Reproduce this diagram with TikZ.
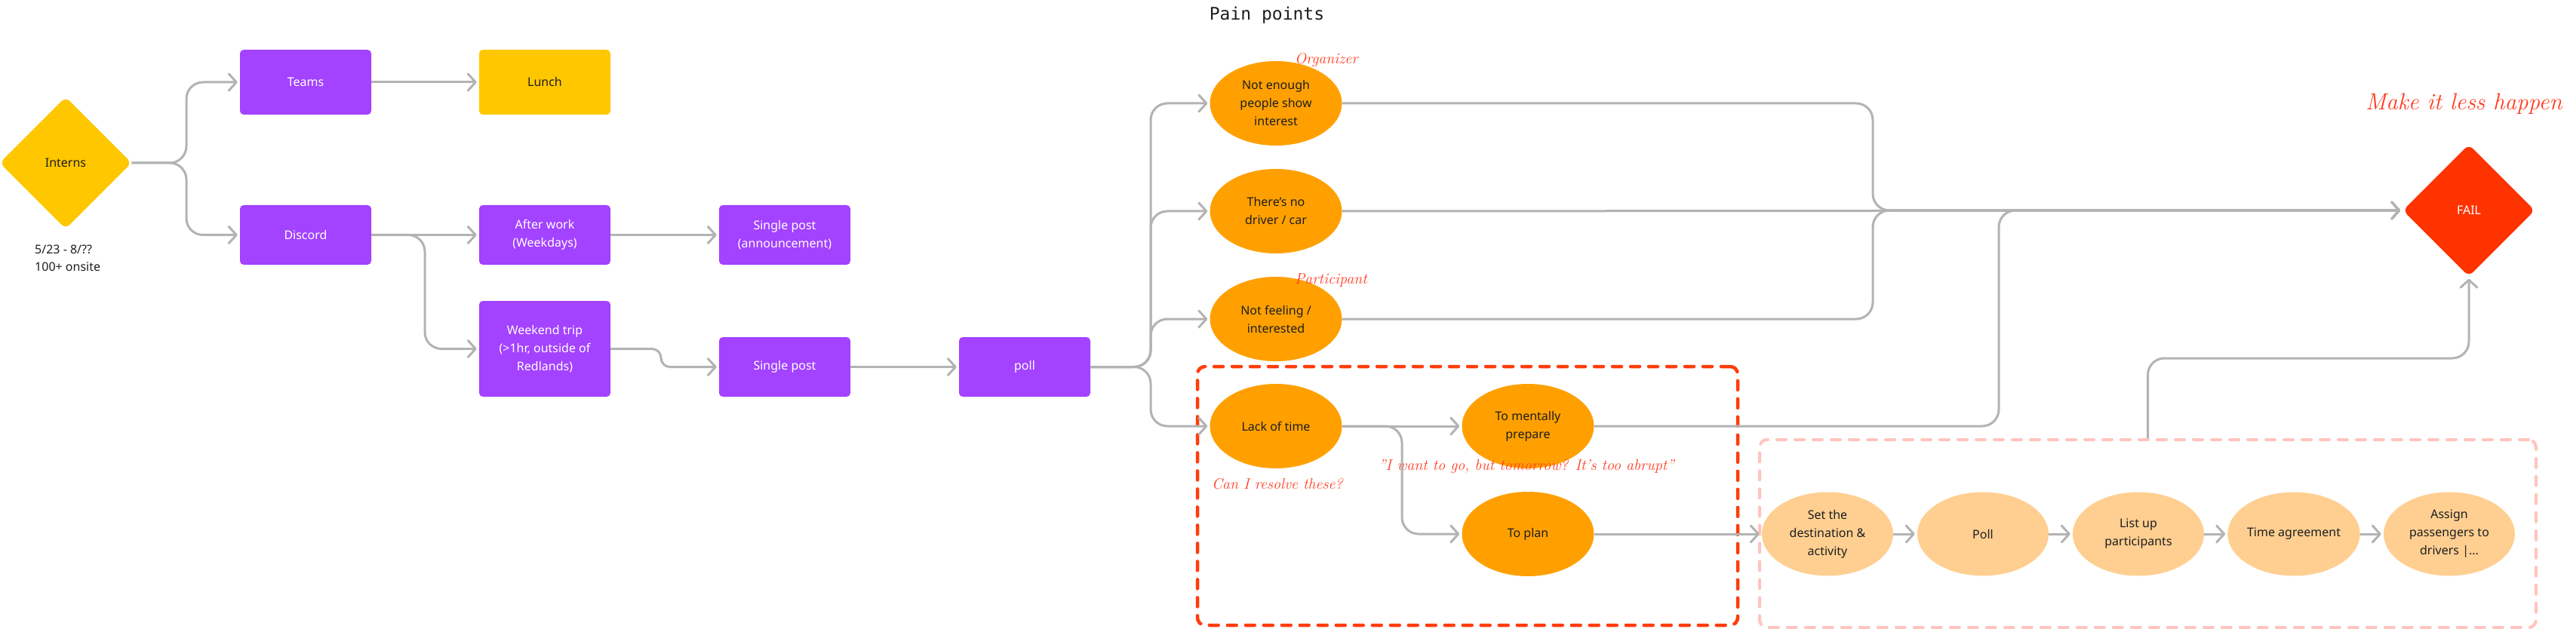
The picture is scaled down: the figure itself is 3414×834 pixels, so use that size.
\documentclass[tikz,border=0pt]{standalone}
\usepackage{fontspec}
\usetikzlibrary{shapes.geometric,arrows.meta}
\newfontfamily\uifont{Noto Sans}
\newfontfamily\titlefont{DejaVu Sans Mono}
\newcommand\handfont{\normalfont\itshape}
\definecolor{purp}{HTML}{A342FF}
\definecolor{yel}{HTML}{FFC700}
\definecolor{orng}{HTML}{FFA000}
\definecolor{lorng}{HTML}{FFCF91}
\definecolor{failred}{HTML}{FF3300}
\definecolor{redline}{HTML}{FF3D0A}
\definecolor{pinkline}{HTML}{FFC4BE}
\definecolor{lgray}{HTML}{B3B3B3}
\definecolor{dark}{HTML}{1E1E1E}
\definecolor{handred}{HTML}{FF3B1F}
\tikzset{
  conn/.style={draw=lgray, line width=3pt, rounded corners=22pt, line join=round,
    -{Straight Barb[length=10pt,width=22pt,round]}, shorten >=3pt},
  uitext/.style={font=\uifont\fontsize{16}{24}\selectfont, align=center},
  box/.style={uitext, rectangle, rounded corners=5pt, fill=purp, text=white,
    minimum width=174pt, inner sep=0pt},
  pain/.style={uitext, ellipse, fill=orng, text=dark, minimum width=175pt,
    minimum height=112pt, inner sep=0pt},
  stepnode/.style={uitext, ellipse, fill=lorng, text=dark, minimum width=174pt,
    minimum height=111pt, inner sep=0pt},
  diam/.style={uitext, diamond, rounded corners=8pt, minimum width=175pt,
    minimum height=175pt, inner sep=0pt},
  hand/.style={font=\handfont\fontsize{20}{24}\selectfont, text=handred, inner sep=0pt},
  groupbox/.style={rectangle, rounded corners=10pt, line cap=round,
    dash pattern=on 12pt off 12pt, inner sep=0pt}
}
\begin{document}
\begin{tikzpicture}[x=1pt,y=-1pt]
\fill[white] (0,0) rectangle (3414,834);
\useasboundingbox (0,0) rectangle (3414,834);

% group boxes
\node[groupbox, draw=redline, line width=4.5pt, minimum width=716pt, minimum height=343pt] (redbox) at (1945,657.5) {};
\node[groupbox, draw=pinkline, line width=4pt, minimum width=1029pt, minimum height=249pt] (pink) at (2846.5,707.5) {};

% title
\node[font=\titlefont\fontsize{23}{28}\selectfont, text=dark] (title) at (1679,20) {Pain points};

% left part
\node[diam, fill=yel, text=dark] (interns) at (87,216) {Interns};
\node[uitext, align=left, text=dark, anchor=west, inner sep=0pt, font=\uifont\fontsize{16}{23}\selectfont] (dates) at (46,342) {5/23 - 8/??\\100+ onsite};
\node[box, minimum height=86pt] (teams) at (405,109) {Teams};
\node[box, minimum height=86pt, fill=yel, text=dark] (lunch) at (722,109) {Lunch};
\node[box, minimum height=79pt] (discord) at (405,311.5) {Discord};
\node[box, minimum height=79pt] (afterwork) at (722,311.5) {After work\\(Weekdays)};
\node[box, minimum height=127pt] (weekend) at (722,462.5) {Weekend trip\\(>1hr, outside of\\Redlands)};
\node[box, minimum height=79pt] (announce) at (1040,311.5) {Single post\\(announcement)};
\node[box, minimum height=79pt] (single) at (1040,486.5) {Single post};
\node[box, minimum height=79pt] (poll) at (1358,486.5) {poll};

% pain points
\node[pain] (p1) at (1691,137) {Not enough\\people show\\interest};
\node[pain] (p2) at (1691,280) {There’s no\\driver / car};
\node[pain] (p3) at (1691,423) {Not feeling /\\interested};
\node[pain] (lack) at (1691,565) {Lack of time};
\node[pain] (mental) at (2025,565) {To mentally\\prepare};
\node[pain] (plan) at (2025,708) {To plan};

% steps
\node[stepnode] (s1) at (2422,708) {Set the\\destination \&\\activity};
\node[stepnode] (s2) at (2628,708) {Poll};
\node[stepnode] (s3) at (2834,708) {List up\\participants};
\node[stepnode] (s4) at (3040,708) {Time agreement};
\node[stepnode] (s5) at (3246,708) {Assign\\passengers to\\drivers |...};

% fail
\node[diam, fill=failred, text=white] (fail) at (3272,279) {FAIL};

% handwritten notes
\node[hand, anchor=west] (org) at (1716,80) {Organizer};
\node[hand, anchor=west] (par) at (1716,372) {Participant};
\node[hand, anchor=west] (can) at (1606,642) {Can I resolve these?};
\node[hand, anchor=west] (quote) at (1827,618) {"I want to go, but tomorrow? It's too abrupt"};
\node[hand, anchor=west, font=\handfont\fontsize{31}{36}\selectfont] (make) at (3135,138) {Make it less happen};

% connectors
\draw[conn] (interns.east) -- (247,216) |- (teams.west);
\draw[conn] (interns.east) -- (247,216) |- (discord.west);
\draw[conn] (teams.east) -- (lunch.west);
\draw[conn] (discord.east) -- (afterwork.west);
\draw[conn] (discord.east) -- (563,311.5) |- (weekend.west);
\draw[conn] (afterwork.east) -- (announce.west);
\draw[conn, rounded corners=12pt] (weekend.east) -- (876,462.5) -- (876,486.5) -- (single.west);
\draw[conn] (single.east) -- (poll.west);
\foreach \t in {p1,p2,p3,lack} \draw[conn] (poll.east) -- (1525,486.5) |- (\t.west);
\draw[conn] (p1.east) -- (2482,137) |- (fail.west);
\draw[conn] (p2.east) -- (fail.west);
\draw[conn] (p3.east) -- (2482,423) |- (fail.west);
\draw[conn] (mental.east) -- (2649,565) |- (fail.west);
\draw[conn] (lack.east) -- (mental.west);
\draw[conn] (lack.east) -- (1858,565) |- (plan.west);
\draw[conn] (plan.east) -- (s1.west);
\draw[conn] (s1.east) -- (s2.west);
\draw[conn] (s2.east) -- (s3.west);
\draw[conn] (s3.east) -- (s4.west);
\draw[conn] (s4.east) -- (s5.west);
\draw[conn] (pink.north) -- (2846.5,475) -| (fail.south);
\end{tikzpicture}
\end{document}
